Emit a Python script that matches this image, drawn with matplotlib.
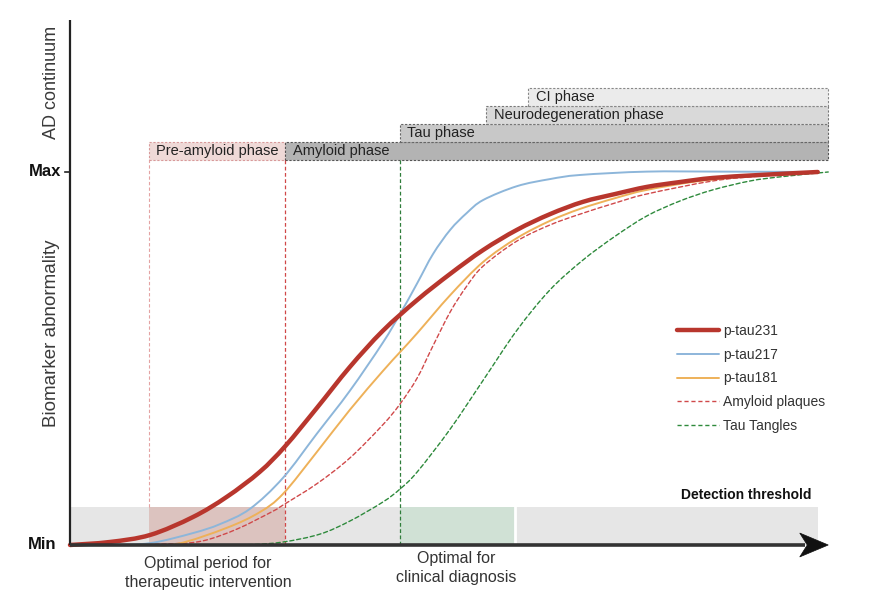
import matplotlib
matplotlib.use("Agg")
import matplotlib.pyplot as plt
from matplotlib.patches import Rectangle, Polygon, PathPatch
from matplotlib.path import Path
from matplotlib.lines import Line2D

plt.rcParams['font.family'] = ['Liberation Sans', 'DejaVu Sans']

# ---------------- data (time 0-100, abnormality 0-100 %) ----------------
ptau231_t = [0, 5.3, 10.7, 16.4, 20.9, 25.3, 28.7, 32.9, 37.3, 41.7, 46.3, 50.7,
             55.1, 59.6, 64.0, 68.4, 72.7, 76.9, 81.3, 85.7, 92.0, 99.7]
ptau231_y = [0, 0.8, 2.7, 7.5, 12.9, 19.6, 26.5, 36.7, 47.7, 57.4, 65.7, 72.7,
             79.1, 84.5, 88.7, 92.0, 94.1, 96.0, 97.3, 98.4, 99.2, 100]

ptau217_t = [0, 5.3, 10.7, 16.4, 20.0, 24.0, 28.4, 32.9, 37.3, 41.7, 44.0, 46.3,
             48.4, 50.7, 52.9, 55.1, 59.6, 64.0, 68.0, 76.9, 86.7, 99.7]
ptau217_y = [0, 0, 0.5, 3.2, 5.6, 9.7, 18.0, 29.8, 41.3, 54.2, 61.9, 70.2,
             78.0, 84.5, 89.0, 92.5, 96.2, 98.1, 99.2, 100.1, 100.1, 100]

ptau181_t = [0, 9.3, 14.3, 20.9, 25.3, 28.4, 32.9, 37.3, 41.7, 44.0, 46.3, 50.7,
             55.1, 59.6, 64.0, 68.0, 72.7, 76.9, 84.0, 92.0, 99.7]
ptau181_y = [0, 0, 0.3, 4.6, 8.8, 13.7, 24.9, 36.2, 46.6, 51.7, 56.8, 67.0,
             75.9, 82.3, 86.9, 90.1, 93.0, 95.2, 97.6, 99.2, 100]

amyloid_t = [6.7, 13.3, 17.7, 22.3, 27.1, 28.4, 32.9, 37.3, 41.7, 44.0, 46.3, 48.4,
             50.7, 52.9, 55.1, 59.6, 64.0, 68.0, 72.7, 76.9, 85.7, 92.0, 99.7]
amyloid_y = [0, 0.3, 1.1, 4.3, 9.1, 10.7, 16.4, 23.3, 32.2, 37.8, 44.8, 53.4,
             62.5, 69.4, 74.8, 81.5, 85.8, 88.7, 91.7, 94.1, 97.6, 98.9, 100]

tangles_t = [17.3, 24.0, 28.4, 33.3, 37.3, 41.7, 44.0, 46.3, 50.7, 55.1, 59.6, 64.0,
             68.4, 72.7, 76.9, 81.3, 85.7, 90.7, 94.7, 101.1]
tangles_y = [0, 0.1, 0.8, 2.9, 6.4, 11.5, 15.0, 19.6, 31.1, 44.2, 57.6, 68.4,
             76.4, 82.8, 88.2, 92.2, 95.2, 97.6, 98.7, 100]

series_labels = ['p-tau231', 'p-tau217', 'p-tau181', 'Amyloid plaques', 'Tau Tangles']

# phases
phase_labels = ['Pre-amyloid phase', 'Amyloid phase', 'Tau phase',
                'Neurodegeneration phase', 'CI phase']
phase_start = [10.5, 28.7, 44.0, 55.5, 61.1]
phase_end = [28.7, 101.1, 101.1, 101.1, 101.1]

detection_threshold = 10.2
therapy_window = (10.5, 28.7)
diagnosis_window = (44.0, 59.3)


def smooth_path(xs, ys):
    """Smooth Bezier path passing through the read points."""
    pts = list(zip(xs, ys))
    n = len(pts)
    verts = [pts[0]]
    codes = [Path.MOVETO]
    for i in range(n - 1):
        p0 = pts[i - 1] if i > 0 else pts[i]
        p1 = pts[i]
        p2 = pts[i + 1]
        p3 = pts[i + 2] if i + 2 < n else pts[i + 1]
        c1 = (p1[0] + (p2[0] - p0[0]) / 6, p1[1] + (p2[1] - p0[1]) / 6)
        c2 = (p2[0] - (p3[0] - p1[0]) / 6, p2[1] - (p3[1] - p1[1]) / 6)
        verts += [c1, c2, p2]
        codes += [Path.CURVE4] * 3
    return Path(verts, codes)


# ---------------- figure ----------------
fig = plt.figure(figsize=(8.70, 6.04), dpi=100)
ax = fig.add_axes([0, 0, 1, 1])
ax.set_xlim(-9.333, 106.667)
ax.set_ylim(-15.82, 146.11)
ax.axis('off')

# detection band
ax.add_patch(Rectangle((0, 0), 99.7, detection_threshold, facecolor='#e6e6e6',
                       edgecolor='none', zorder=1))
ax.add_patch(Rectangle((therapy_window[0], 0), therapy_window[1] - therapy_window[0],
                       detection_threshold, facecolor='#dcc3bf', edgecolor='none', zorder=1.1))
ax.add_patch(Rectangle((diagnosis_window[0], 0), diagnosis_window[1] - diagnosis_window[0],
                       detection_threshold, facecolor='#d0e1d5', edgecolor='none', zorder=1.1))
ax.plot([diagnosis_window[1] + 0.1] * 2, [0, detection_threshold], color='white', lw=2, zorder=1.2)
ax.text(98.9, detection_threshold + 1.2, 'Detection threshold', ha='right', va='bottom',
        fontsize=10, fontweight='bold', color='#111111')

# phase boxes
phase_y0 = 103.2
box_h = 4.83
phase_fc = ['#efd9d7', '#b3b3b3', '#c8c8c8', '#d9d9d9', '#ebebeb']
phase_ec = ['#d89a9a', '#555555', '#666666', '#777777', '#888888']
phase_row = [0, 0, 1, 2, 3]
for lab, s, e, fc, ec, r in zip(phase_labels, phase_start, phase_end, phase_fc, phase_ec, phase_row):
    y0 = phase_y0 + r * box_h
    ax.add_patch(Rectangle((s, y0), e - s, box_h, facecolor=fc, edgecolor=ec,
                           lw=0.8, ls=(0, (2, 1.5)), zorder=2))
    ax.text(s + 1.0, y0 + box_h / 2, lab, ha='left', va='center', fontsize=10.5,
            color='#222222', zorder=3)

# vertical dashed lines
ax.plot([phase_start[0]] * 2, [detection_threshold, phase_y0], color='#e4a3a3', lw=0.8,
        ls=(0, (3, 2)), zorder=2)
ax.plot([phase_start[1]] * 2, [0, phase_y0], color='#d04848', lw=0.9,
        ls=(0, (3, 2)), zorder=2)
ax.plot([phase_start[2]] * 2, [0, phase_y0], color='#2f7d3a', lw=0.9,
        ls=(0, (3, 2)), zorder=2)

# curves
styles = [
    (ptau231_t, ptau231_y, dict(color='#b8362d', lw=3.2, ls='-'), 6),
    (ptau217_t, ptau217_y, dict(color='#8db6da', lw=1.4, ls='-'), 5),
    (ptau181_t, ptau181_y, dict(color='#eeb159', lw=1.4, ls='-'), 5),
    (amyloid_t, amyloid_y, dict(color='#d0494a', lw=1.0, ls=(0, (3, 2))), 4),
    (tangles_t, tangles_y, dict(color='#2e8a3c', lw=1.0, ls=(0, (3, 2))), 4),
]
handles = []
for (xs, ys, st, z), lab in zip(styles, series_labels):
    ax.add_patch(PathPatch(smooth_path(xs, ys), fill=False, edgecolor=st['color'],
                           lw=st['lw'], ls=st['ls'], capstyle='round', zorder=z))
    handles.append(Line2D([], [], color=st['color'], lw=st['lw'], ls=st['ls'],
                          solid_capstyle='round', label=lab))

leg = ax.legend(handles=handles, loc='upper left',
                bbox_to_anchor=(677 / 870, 1 - 324 / 604), frameon=False,
                fontsize=10, handlelength=3.0, handletextpad=0.3, labelspacing=0.7,
                borderaxespad=0, borderpad=0)
for t in leg.get_texts():
    t.set_color('#333333')

# axes
ax.plot([0, 0], [0, 140.8], color='#222222', lw=1.6, zorder=7, solid_capstyle='butt')
ax.plot([0, 98.0], [0, 0], color='#333333', lw=2.6, zorder=7, solid_capstyle='butt')
ax.plot([-0.7, 0], [100, 100], color='#222222', lw=1.2, zorder=7)
ax.add_patch(Polygon([(101.1, 0), (97.3, 3.2), (98.3, 0), (97.3, -3.2)], closed=True,
                     facecolor='#111111', edgecolor='#111111', lw=0.5, zorder=8))

ax.text(-1.1, 100, 'Max', ha='right', va='center', fontsize=12, fontweight='bold',
        color='#111111')
ax.text(-1.8, 0, 'Min', ha='right', va='center', fontsize=12, fontweight='bold',
        color='#111111')
ax.text(-2.4, 124.0, 'AD continuum', rotation=90, ha='center', va='center', fontsize=13,
        color='#3a3a3a')
ax.text(-2.4, 56.8, 'Biomarker abnormality', rotation=90, ha='center', va='center',
        fontsize=13.5, color='#3a3a3a')

ax.text(18.4, -2.95, 'Optimal period for\ntherapeutic intervention', ha='center', va='top',
        fontsize=11.5, color='#333333', linespacing=1.3)
ax.text(51.5, -1.6, 'Optimal for\nclinical diagnosis', ha='center', va='top',
        fontsize=11.5, color='#333333', linespacing=1.3)

fig.savefig('out.png', dpi=100, facecolor='white')
